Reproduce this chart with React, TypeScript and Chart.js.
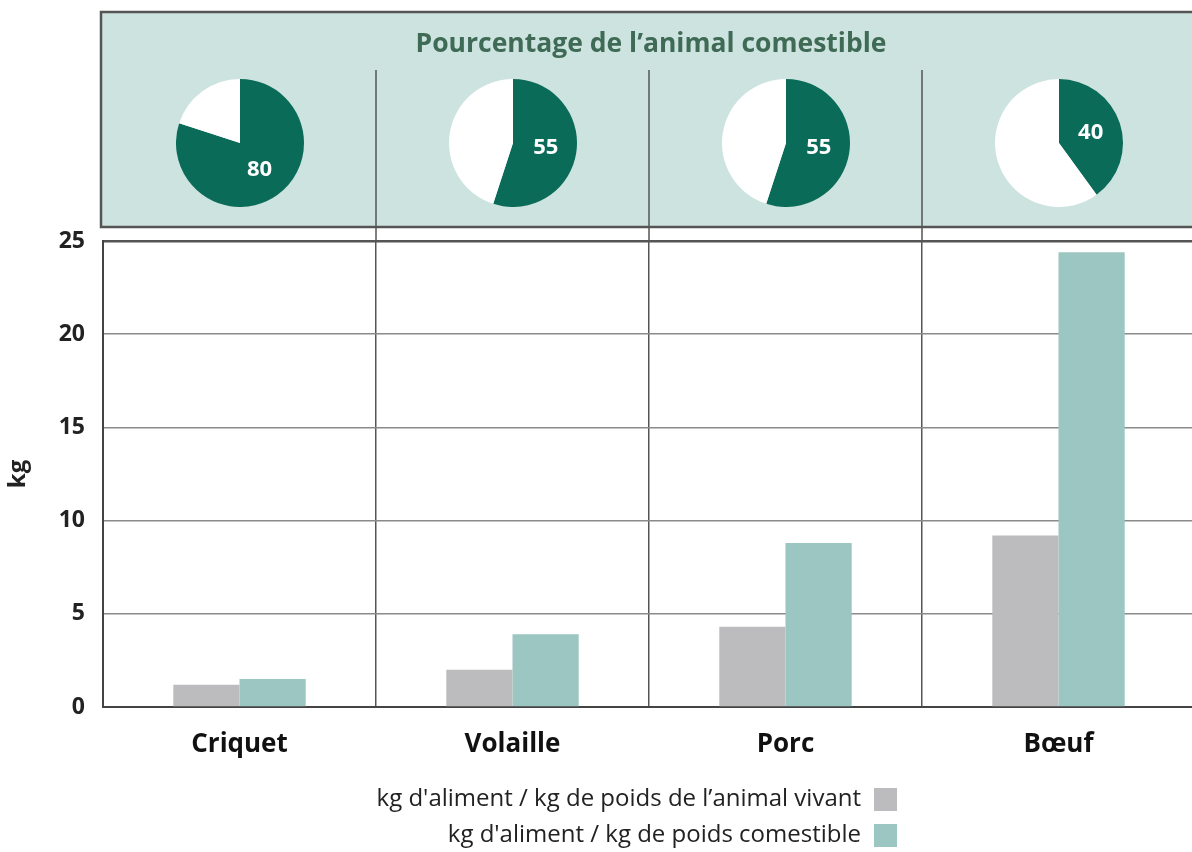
import React, { useEffect, useRef } from 'react';
import { Chart, registerables } from 'chart.js';

Chart.register(...registerables);

// ---------- data ----------
const categories = ['Criquet', 'Volaille', 'Porc', 'Bœuf'];
const feedPerLiveKg = [1.2, 2.0, 4.3, 9.2];
const feedPerEdibleKg = [1.5, 3.9, 8.8, 24.4];
const ediblePercent = [80, 55, 55, 40];
const yTickValues = [0, 5, 10, 15, 20, 25];
const seriesLabels = [
  "kg d'aliment / kg de poids de l’animal vivant",
  "kg d'aliment / kg de poids comestible",
];
const panelTitle = 'Pourcentage de l’animal comestible';
const yAxisTitle = 'kg';

// ---------- styles ----------
const W = 1200;
const H = 852;
const FONT = '"Open Sans", "DejaVu Sans", sans-serif';
const GRAY = '#bcbcbe';
const TEAL = '#9bc6c1';
const PIE_GREEN = '#0a6b58';
const PANEL_BG = '#cde3df';
const PIE_SIZE = 128;
const PIE_TOP = 79;

const panelPlugin = {
  id: 'panelPlugin',
  beforeDraw(chart: any) {
    const { ctx, chartArea } = chart;
    const xs = chart.scales.x;
    ctx.save();
    ctx.fillStyle = '#ffffff';
    ctx.fillRect(0, 0, chart.width, chart.height);
    // panel
    const px0 = 101, py0 = 12, py1 = 227;
    ctx.fillStyle = PANEL_BG;
    ctx.fillRect(px0, py0, chart.width + 20, py1 - py0);
    ctx.strokeStyle = '#555';
    ctx.lineWidth = 2.5;
    ctx.strokeRect(px0, py0, chart.width + 20, py1 - py0);
    // title
    ctx.fillStyle = '#3e6a56';
    ctx.font = `bold 26.5px ${FONT}`;
    ctx.textAlign = 'center';
    ctx.textBaseline = 'middle';
    ctx.fillText(panelTitle, (chartArea.left + chartArea.right) / 2 + 2, 44);
    // divider extensions from x-scale category boundaries
    ctx.strokeStyle = '#555';
    ctx.lineWidth = 1.5;
    for (let i = 1; i < categories.length; i++) {
      const bx = (xs.getPixelForValue(i - 1) + xs.getPixelForValue(i)) / 2;
      ctx.beginPath();
      ctx.moveTo(bx, 70);
      ctx.lineTo(bx, chartArea.top);
      ctx.stroke();
    }
    ctx.restore();
  },
  afterDraw(chart: any) {
    const { ctx } = chart;
    ctx.save();
    chart.data.datasets.forEach((ds: any, i: number) => {
      const y = 799 + i * 36;
      ctx.font = `24px ${FONT}`;
      ctx.textAlign = 'right';
      ctx.textBaseline = 'middle';
      ctx.fillStyle = '#222';
      ctx.fillText(ds.label, 861, y);
      ctx.fillStyle = ds.backgroundColor;
      ctx.fillRect(874, y - 11, 23, 23);
    });
    ctx.restore();
  },
};

const pieLabelPlugin = {
  id: 'pieLabel',
  afterDatasetsDraw(chart: any) {
    const { ctx } = chart;
    const meta = chart.getDatasetMeta(0);
    const arc: any = meta.data[0];
    if (!arc) return;
    const mid = (arc.startAngle + arc.endAngle) / 2;
    const r = arc.outerRadius * 0.52;
    const x = arc.x + Math.cos(mid) * r;
    const y = arc.y + Math.sin(mid) * r;
    ctx.save();
    ctx.fillStyle = '#ffffff';
    ctx.font = `bold 22px ${FONT}`;
    ctx.textAlign = 'center';
    ctx.textBaseline = 'middle';
    ctx.fillText(String(chart.data.datasets[0].data[0]), x, y);
    ctx.restore();
  },
};

export default function App() {
  const mainRef = useRef<HTMLCanvasElement | null>(null);
  const pieRefs = useRef<(HTMLCanvasElement | null)[]>([]);
  const pieWrapRefs = useRef<(HTMLDivElement | null)[]>([]);

  useEffect(() => {
    document.body.style.margin = '0';
    document.body.style.overflow = 'hidden';
    if (!mainRef.current) return;
    const charts: Chart[] = [];

    const main = new Chart(mainRef.current, {
      type: 'bar',
      data: {
        labels: categories,
        datasets: [
          {
            label: seriesLabels[0],
            data: feedPerLiveKg,
            backgroundColor: GRAY,
            categoryPercentage: 0.485,
            barPercentage: 1.0,
          },
          {
            label: seriesLabels[1],
            data: feedPerEdibleKg,
            backgroundColor: TEAL,
            categoryPercentage: 0.485,
            barPercentage: 1.0,
          },
        ],
      },
      options: {
        responsive: false,
        animation: false,
        events: [],
        layout: { padding: { top: 241, left: 0, right: 5, bottom: 85 } },
        plugins: {
          legend: { display: false },
          tooltip: { enabled: false },
        },
        scales: {
          x: {
            grid: {
              offset: true,
              color: '#555',
              lineWidth: 1.5,
              drawTicks: false,
            },
            border: { color: '#444', width: 2 },
            ticks: {
              color: '#111',
              font: { family: FONT, size: 26, weight: 'bold' },
              padding: 22,
            },
            afterFit(scale: any) {
              scale.height = 60;
            },
          },
          y: {
            min: 0,
            max: 25,
            afterBuildTicks(scale: any) {
              scale.ticks = yTickValues.map((v) => ({ value: v }));
            },
            grid: {
              color: (c: any) => (c.tick && c.tick.value === 25 ? '#555' : '#8a8a8a'),
              lineWidth: (c: any) => (c.tick && c.tick.value === 25 ? 2.5 : 1.5),
              drawTicks: false,
            },
            border: { color: '#444', width: 2 },
            ticks: {
              color: '#222',
              font: { family: FONT, size: 23, weight: 'bold' },
              padding: 18,
            },
            title: {
              display: true,
              text: yAxisTitle,
              color: '#222',
              font: { family: FONT, size: 24, weight: 'bold' },
              padding: { top: 4, bottom: 0 },
            },
            afterFit(scale: any) {
              scale.width = 103;
            },
          },
        },
      } as any,
      plugins: [panelPlugin],
    });
    charts.push(main);

    const xs: any = main.scales.x;
    ediblePercent.forEach((p, i) => {
      const cv = pieRefs.current[i];
      const wrap = pieWrapRefs.current[i];
      if (!cv || !wrap) return;
      const cx = xs.getPixelForValue(i);
      wrap.style.left = `${cx - PIE_SIZE / 2}px`;
      wrap.style.top = `${PIE_TOP}px`;
      const pie = new Chart(cv, {
        type: 'pie',
        data: {
          labels: ['comestible', 'non comestible'],
          datasets: [
            {
              data: [p, 100 - p],
              backgroundColor: [PIE_GREEN, '#ffffff'],
              borderWidth: 0,
            },
          ],
        },
        options: {
          responsive: false,
          animation: false,
          events: [],
          layout: { padding: 0 },
          plugins: { legend: { display: false }, tooltip: { enabled: false } },
        } as any,
        plugins: [pieLabelPlugin],
      });
      charts.push(pie);
    });

    return () => {
      charts.forEach((c) => c.destroy());
    };
  }, []);

  return (
    <div style={{ position: 'relative', width: 1192, height: 852, overflow: 'hidden', background: '#fff' }}>
      <canvas ref={mainRef} width={W} height={H} style={{ position: 'absolute', left: 0, top: 0 }} />
      {ediblePercent.map((_, i) => (
        <div
          key={i}
          ref={(el) => {
            pieWrapRefs.current[i] = el;
          }}
          style={{ position: 'absolute', width: PIE_SIZE, height: PIE_SIZE, left: 0, top: PIE_TOP }}
        >
          <canvas
            ref={(el) => {
              pieRefs.current[i] = el;
            }}
            width={PIE_SIZE}
            height={PIE_SIZE}
          />
        </div>
      ))}
    </div>
  );
}
